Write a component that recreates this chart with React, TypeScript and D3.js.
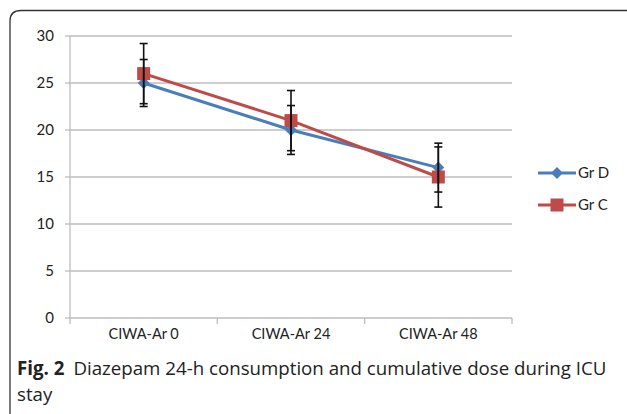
import React from "react";
import * as d3 from "d3";

const categories = ["CIWA-Ar 0", "CIWA-Ar 24", "CIWA-Ar 48"];
const grD = [25, 20, 16];
const grDErr = [2.5, 2.6, 2.6];
const grC = [26, 21, 15];
const grCErr = [3.2, 3.2, 3.2];
const yTicks = [0, 5, 10, 15, 20, 25, 30];
const seriesNames = ["Gr D", "Gr C"];

const W = 627;
const H = 414;
const m = { left: 70, right: 512, top: 36, bottom: 318 };
const blue = "#4a7ebb";
const red = "#be4b48";
const font = "Lato, 'Open Sans', sans-serif";

export default function App() {
  const x = d3.scaleBand().domain(categories).range([m.left, m.right]);
  const y = d3.scaleLinear().domain([0, 30]).range([m.bottom, m.top]);
  const cx = (c: string) => (x(c) as number) + x.bandwidth() / 2;
  const line = d3
    .line<number>()
    .x((_, i) => cx(categories[i]))
    .y((d) => y(d));

  const series = [
    { name: seriesNames[0], vals: grD, err: grDErr, color: blue, shape: "diamond" },
    { name: seriesNames[1], vals: grC, err: grCErr, color: red, shape: "square" },
  ];

  const marker = (shape: string, color: string, px: number, py: number, key: string) =>
    shape === "square" ? (
      <rect key={key} x={px - 6.5} y={py - 6.5} width={13} height={13} fill={color} />
    ) : (
      <path key={key} d={`M${px},${py - 6}L${px + 6},${py}L${px},${py + 6}L${px - 6},${py}Z`} fill={color} />
    );

  return (
    <svg width={W} height={H} style={{ position: "absolute", left: 0, top: 0, background: "#fff" }}>
      <path d={`M10,${H + 10}V21Q10,10.5 21,10.5H${W}`} fill="none" stroke="#333" strokeWidth={1.3} />
      {yTicks.map((t) => (
        <g key={t}>
          {t > 0 && <line x1={m.left} x2={m.right} y1={y(t)} y2={y(t)} stroke="#bdbdbd" strokeWidth={1.3} />}
          <line x1={m.left - 5} x2={m.left} y1={y(t)} y2={y(t)} stroke="#bdbdbd" strokeWidth={1.3} />
          <text x={m.left - 16} y={y(t)} dy="0.36em" textAnchor="end" fontFamily={font} fontSize={15} fill="#222">
            {t}
          </text>
        </g>
      ))}
      <line x1={m.left} x2={m.left} y1={m.top} y2={m.bottom} stroke="#bdbdbd" strokeWidth={1.3} />
      <line x1={m.left} x2={m.right} y1={m.bottom} y2={m.bottom} stroke="#bdbdbd" strokeWidth={1.3} />
      {[m.left, ...categories.map((c) => (x(c) as number) + x.bandwidth())].map((tx, i) => (
        <line key={i} x1={tx} x2={tx} y1={m.bottom} y2={m.bottom + 6} stroke="#bdbdbd" strokeWidth={1.3} />
      ))}
      {categories.map((c) => (
        <text key={c} x={cx(c)} y={m.bottom + 16} dy="0.35em" textAnchor="middle" fontFamily={font} fontSize={14.5} fill="#222">
          {c}
        </text>
      ))}
      {series.map((s) => (
        <path key={s.name} d={line(s.vals) as string} fill="none" stroke={s.color} strokeWidth={3} />
      ))}
      {series.map((s) => (
        <g key={s.name + "m"}>{s.vals.map((v, i) => marker(s.shape, s.color, cx(categories[i]), y(v), s.name + i))}</g>
      ))}
      {series.map((s) =>
        s.vals.map((v, i) => {
          const px = cx(categories[i]);
          const hi = y(v + s.err[i]);
          const lo = y(v - s.err[i]);
          return (
            <g key={s.name + "e" + i} stroke="#111" strokeWidth={1.6}>
              <line x1={px} x2={px} y1={hi} y2={lo} />
              <line x1={px - 4} x2={px + 4} y1={hi} y2={hi} />
              <line x1={px - 4} x2={px + 4} y1={lo} y2={lo} />
            </g>
          );
        })
      )}
      {series.map((s, i) => {
        const ly = 173 + i * 32;
        return (
          <g key={s.name + "l"}>
            <line x1={538} x2={576} y1={ly} y2={ly} stroke={s.color} strokeWidth={3} />
            {marker(s.shape, s.color, 557, ly, s.name + "lm")}
            <text x={578} y={ly} dy="0.36em" fontFamily={font} fontSize={15} fill="#222">
              {s.name}
            </text>
          </g>
        );
      })}
      <text x={17} y={375} fontFamily="'Open Sans', sans-serif" fontSize={18.7} fill="#222">
        <tspan fontWeight="bold">Fig. 2</tspan>
        <tspan dx={9}>Diazepam 24-h consumption and cumulative dose during ICU</tspan>
      </text>
      <text x={17} y={401} fontFamily="'Open Sans', sans-serif" fontSize={18.7} fill="#222">
        stay
      </text>
    </svg>
  );
}
